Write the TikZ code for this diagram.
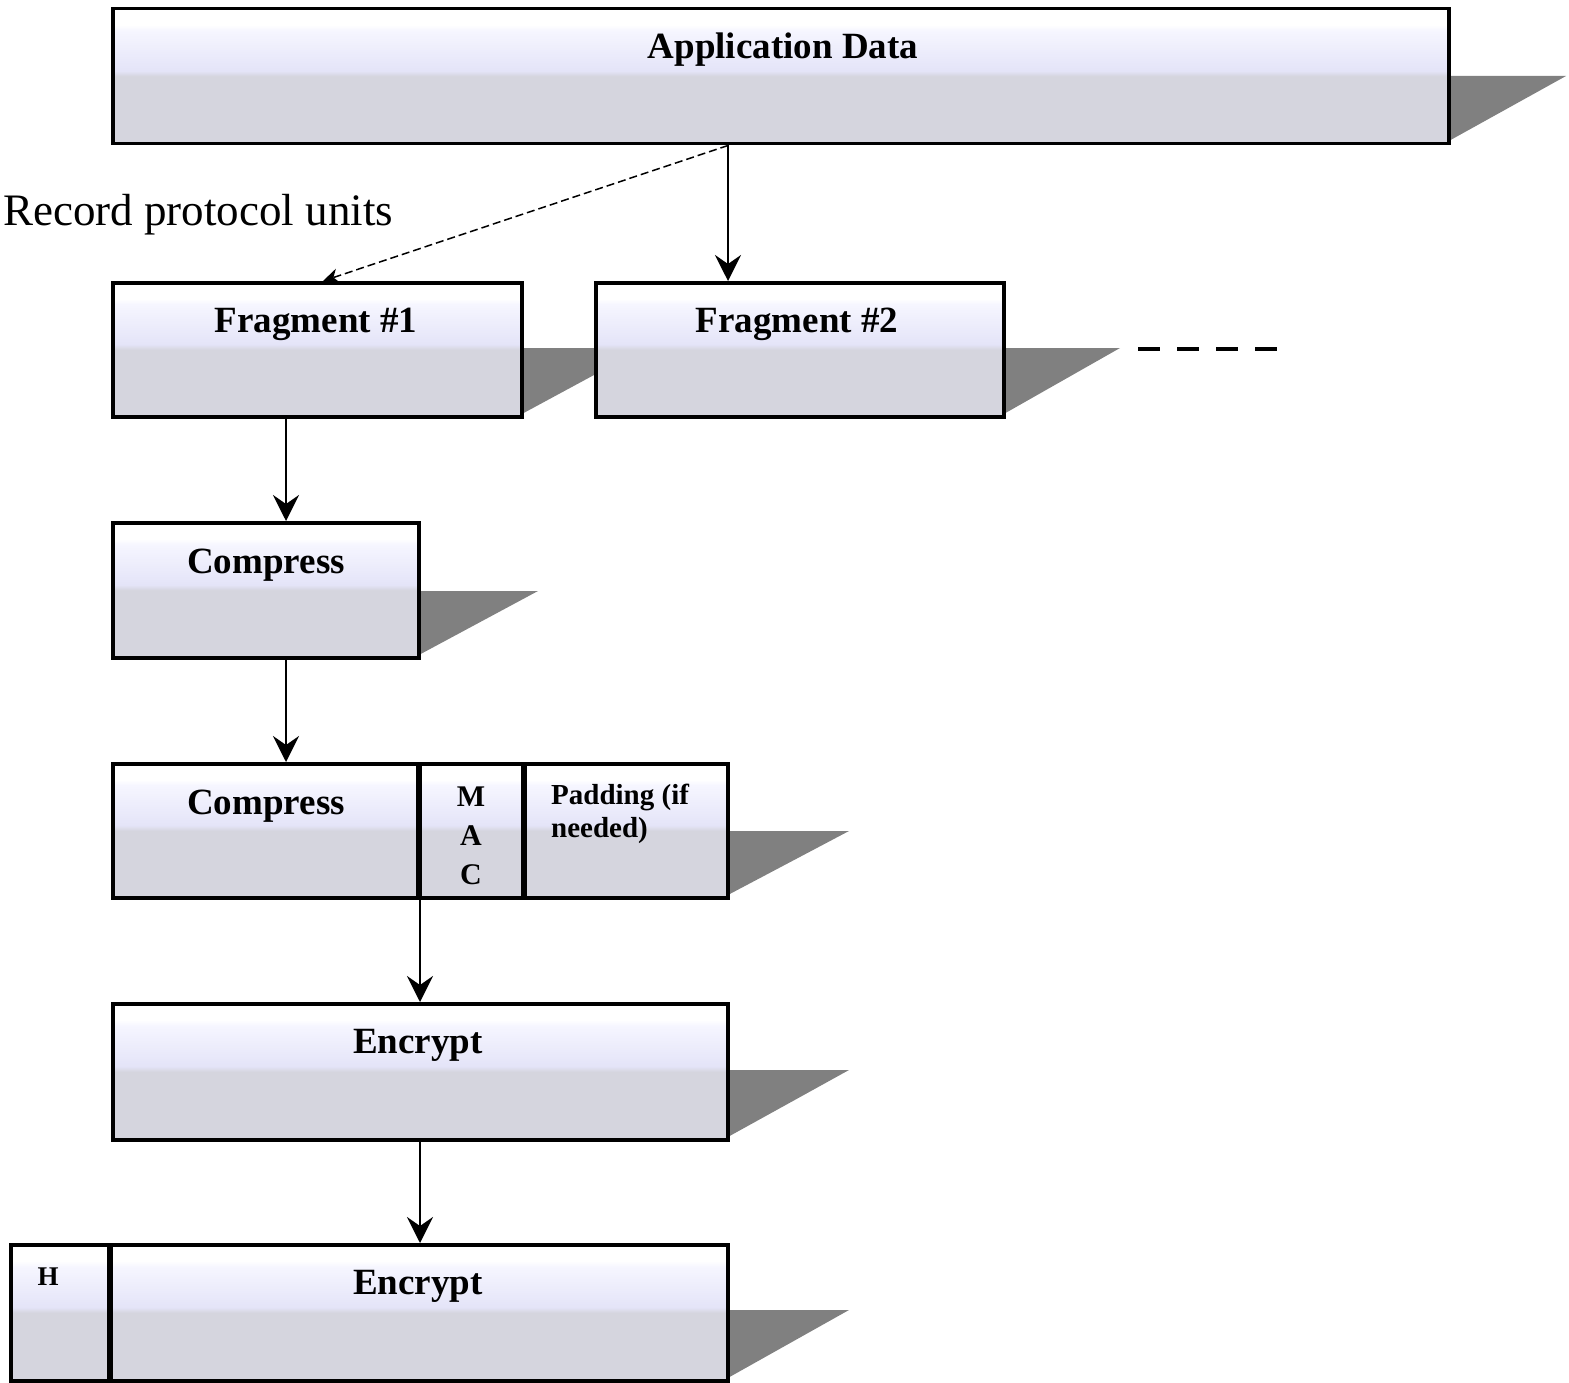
\documentclass[tikz,border=0pt]{standalone}
\usepackage{fontspec}
\setmainfont{Liberation Serif}
\usetikzlibrary{arrows.meta}
\definecolor{mixB}{RGB}{213,213,222}
\definecolor{lavA}{RGB}{228,228,248}
\definecolor{lavB}{RGB}{246,246,255}
\definecolor{shadowgray}{RGB}{128,128,128}
\pgfdeclareverticalshading{boxfill}{100bp}{color(0bp)=(mixB); color(25bp)=(mixB); color(50bp)=(mixB); color(52bp)=(lavA); color(67bp)=(lavB); color(69bp)=(white); color(100bp)=(white)}
\tikzset{
  recbox/.style={draw, line width=3.5pt, shading=boxfill, anchor=north west, inner sep=0pt},
  shad/.style={fill=shadowgray},
  boxtext/.style={font=\fontsize{37}{40}\selectfont\bfseries, inner sep=0pt, anchor=base},
  smalltext/.style={font=\fontsize{29}{33}\selectfont\bfseries, inner sep=0pt},
  arr/.style={line width=2.5pt, -{Stealth[length=26pt,width=26pt,inset=9pt]}},
  darr/.style={line width=1.5pt, dash pattern=on 8pt off 4pt, -{Stealth[length=16pt,width=15pt,inset=5pt]}},
}
\begin{document}
\begin{tikzpicture}[x=1pt,y=-1pt]
\useasboundingbox (0,0) rectangle (1569,1383);
% Application Data
\fill[shad] (1447,76) -- (1566,76) -- (1447,142) -- cycle;
\node[recbox, minimum width=1336, minimum height=135] (app) at (111,7) {};
\node[boxtext] (appT) at (783,59) {Application Data};
% Record protocol units label
\node[font=\fontsize{45}{48}\selectfont, inner sep=0pt, anchor=west] (rpu) at (3,215) {Record protocol units};
% Fragments
\fill[shad] (520,348) -- (644,348) -- (520,415) -- cycle;
\node[recbox, minimum width=409, minimum height=134] (frag1) at (111,281) {};
\node[boxtext] (frag1T) at (316,332) {Fragment \#1};
\fill[shad] (1002,348) -- (1120,348) -- (1002,415) -- cycle;
\node[recbox, minimum width=408, minimum height=134] (frag2) at (594,281) {};
\node[boxtext] (frag2T) at (797,332) {Fragment \#2};
\coordinate (d1) at (1138,349);
\coordinate (d2) at (1277,349);
\draw[line width=4pt, dash pattern=on 22pt off 17pt] (d1) -- (d2);
% Compress
\fill[shad] (417,591) -- (538,591) -- (417,656) -- cycle;
\node[recbox, minimum width=306, minimum height=135] (comp) at (111,521) {};
\node[boxtext] (compT) at (266,573) {Compress};
% Compress + MAC + Padding
\fill[shad] (726,831) -- (849,831) -- (726,896) -- cycle;
\node[recbox, minimum width=307, minimum height=134] (comp2) at (111,762) {};
\node[recbox, minimum width=103, minimum height=134] (mac) at (418,762) {};
\node[recbox, minimum width=205, minimum height=134] (pad) at (521,762) {};
\draw[line width=4.5pt] (mac.north west) -- (mac.south west) (mac.north east) -- (mac.south east);
\node[boxtext] (comp2T) at (266,814) {Compress};
\node[smalltext, align=center, font=\fontsize{30}{39}\selectfont\bfseries] (macT) at (471,836) {M\\A\\C};
\node[smalltext, align=left, anchor=north west] (padT) at (551,784) {Padding (if\\needed)};
% Encrypt
\fill[shad] (726,1070) -- (849,1070) -- (726,1138) -- cycle;
\node[recbox, minimum width=615, minimum height=136] (enc) at (111,1002) {};
\node[boxtext] (encT) at (418,1053) {Encrypt};
% Header + Encrypt
\fill[shad] (726,1310) -- (849,1310) -- (726,1379) -- cycle;
\node[recbox, minimum width=100, minimum height=136] (hdr) at (9,1243) {};
\node[recbox, minimum width=617, minimum height=136] (enc2) at (109,1243) {};
\draw[line width=4.5pt] (enc2.north west) -- (enc2.south west);
\node[smalltext, font=\fontsize{27}{30}\selectfont\bfseries] (hdrT) at (48,1277) {H};
\node[boxtext] (enc2T) at (418,1294) {Encrypt};
% Connectors
\coordinate (a1) at (728,0);
\coordinate (a2) at (323,0);
\coordinate (a3) at (286,0);
\coordinate (a4) at (420,0);
\draw[arr] (a1 |- app.south) -- (a1 |- frag2.north);
\draw[darr] (a1 |- app.south) -- (a2 |- frag1.north);
\draw[arr] (a3 |- frag1.south) -- (a3 |- comp.north);
\draw[arr] (a3 |- comp.south) -- (a3 |- comp2.north);
\draw[arr] (a4 |- mac.south) -- (a4 |- enc.north);
\draw[arr] (a4 |- enc.south) -- (a4 |- enc2.north);
\end{tikzpicture}
\end{document}
